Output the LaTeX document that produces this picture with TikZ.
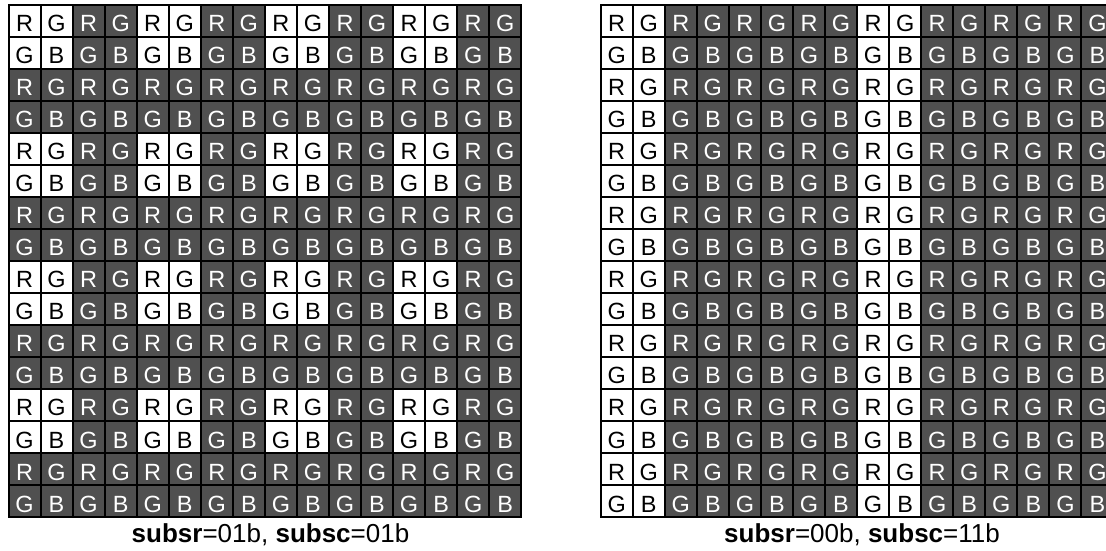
\documentclass[tikz,border=0pt]{standalone}
\usepackage{fontspec}
\setmainfont{Liberation Sans}
\definecolor{cellgray}{RGB}{80,80,80}
\begin{document}
\begin{tikzpicture}[x=0.75pt,y=0.75pt,yscale=-1,xscale=1,
  litcell/.style={fill=white},
  darkcell/.style={fill=cellgray},
  littext/.style={text=black,inner sep=0pt,font=\fontsize{17.6}{18}\selectfont},
  darktext/.style={littext,text=white},
  gridline/.style={draw=black,line width=1.5pt,line cap=rect},
  caption/.style={anchor=base,inner sep=0pt,font=\fontsize{19.5}{20}\selectfont}]
\useasboundingbox (0,0) rectangle (1106,550);
\clip (0,0) rectangle (1106,550);

%Shape: Grid [left, subsr=01b subsc=01b]
\begin{scope}[shift={(8.5,4.5)}]
\foreach \r in {0,...,15}{
  \foreach \c in {0,...,15}{
    \pgfmathtruncatemacro\lit{(mod(\r,4)<2)*(mod(\c,4)<2)}
    \pgfmathtruncatemacro\k{2*mod(\r,2)+mod(\c,2)}
    \ifnum\lit=1 \def\cst{litcell}\def\tst{littext}\else\def\cst{darkcell}\def\tst{darktext}\fi
    \path[\cst] (\c*32.05,\r*32.05) rectangle ++(32.05,32.05);
    % Text Node
    \node[\tst] (L-\r-\c) at (\c*32.05+16,\r*32.05+18.8) {\ifcase\k R\or G\or G\or B\fi};
  }
}
\foreach \i in {0,...,16}{
  \draw[gridline] (\i*32.05,0) -- (\i*32.05,512.8);
  \draw[gridline] (0,\i*32.05) -- (512.8,\i*32.05);
}
\end{scope}

%Shape: Grid [right, subsr=00b subsc=11b]
\begin{scope}[shift={(600.7,4.5)}]
\foreach \r in {0,...,15}{
  \foreach \c in {0,...,15}{
    \pgfmathtruncatemacro\lit{(mod(\c,8)<2)}
    \pgfmathtruncatemacro\k{2*mod(\r,2)+mod(\c,2)}
    \ifnum\lit=1 \def\cst{litcell}\def\tst{littext}\else\def\cst{darkcell}\def\tst{darktext}\fi
    \path[\cst] (\c*32.05,\r*32.05) rectangle ++(32.05,32.05);
    % Text Node
    \node[\tst] (R-\r-\c) at (\c*32.05+16,\r*32.05+18.8) {\ifcase\k R\or G\or G\or B\fi};
  }
}
\foreach \i in {0,...,16}{
  \draw[gridline] (\i*32.05,0) -- (\i*32.05,512.8);
  \draw[gridline] (0,\i*32.05) -- (512.8,\i*32.05);
}
\end{scope}

% Text Node
\node[caption] (capL) at (270.5,542.5) {\textbf{subsr}=01b, \textbf{subsc}=01b};
% Text Node
\node[caption] (capR) at (862,542.5) {\textbf{subsr}=00b, \textbf{subsc}=11b};

\end{tikzpicture}
\end{document}
